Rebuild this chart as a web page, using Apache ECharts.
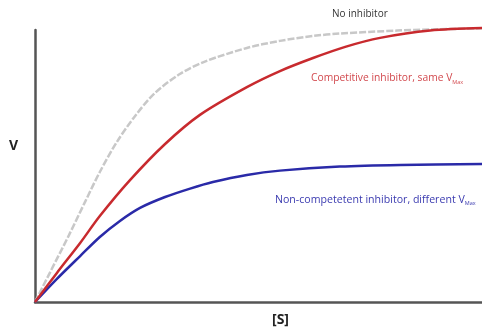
<!DOCTYPE html>
<html>
<head>
<meta charset="utf-8">
<script src="https://cdn.jsdelivr.net/npm/echarts@6/dist/echarts.min.js"></script>
<style>
  html, body { margin: 0; padding: 0; background: #fff; }
  #chart { width: 482px; height: 335px; }
</style>
</head>
<body>
<div id="chart"></div>
<script>
// [S] positions and V readings, per curve (0-100 scale)
const noInhS = [0, 3.4, 7.6, 11.2, 14.5, 18.3, 22.4, 26.8, 32.4, 38.0, 47.4, 54.8, 62.2, 68.2, 81.0, 88.4, 100]
const noInhV = [0, 11.0, 24.6, 36.8, 47.8, 58.8, 68.4, 76.8, 83.8, 88.4, 93.4, 96.0, 97.8, 98.7, 99.8, 100.2, 100.6]

const compS = [0, 4.9, 10.1, 14.5, 21.3, 29.1, 36.9, 47.4, 54.8, 62.2, 69.4, 77.2, 88.4, 100]
const compV = [0, 10.7, 21.7, 31.6, 44.9, 58.1, 68.8, 79.0, 84.9, 89.7, 93.8, 97.1, 99.8, 100.7]

const nonCompS = [0, 4.9, 10.1, 14.5, 19.0, 23.5, 29.1, 34.7, 39.8, 47.4, 54.8, 68.2, 81.7, 100]
const nonCompV = [0, 8.5, 16.9, 23.9, 29.8, 34.6, 38.6, 41.7, 44.1, 46.7, 48.3, 49.8, 50.4, 50.7]

const pairs = (xs, ys) => xs.map((x, i) => [x, ys[i]])

const chart = echarts.init(document.getElementById('chart'))
const font = '"Open Sans", "Noto Sans", sans-serif'

const curve = (name, xs, ys, color, z, extra) => ({
  name: name,
  type: 'line',
  smooth: 0.3,
  symbol: 'none',
  clip: false,
  z: z,
  lineStyle: Object.assign({ color: color, width: 2.5 }, extra || {}),
  data: pairs(xs, ys)
})

chart.setOption({
  backgroundColor: '#fff',
  animation: false,
  grid: { left: 35, right: 0, top: 30, bottom: 33 },
  xAxis: {
    type: 'value',
    min: 0,
    max: 100,
    axisLine: { show: true, lineStyle: { color: '#555', width: 2.5 } },
    axisTick: { show: false },
    axisLabel: { show: false },
    splitLine: { show: false }
  },
  yAxis: {
    type: 'value',
    min: 0,
    max: 100,
    axisLine: { show: true, lineStyle: { color: '#555', width: 2.5 } },
    axisTick: { show: false },
    axisLabel: { show: false },
    splitLine: { show: false }
  },
  series: [
    curve('No inhibitor', noInhS, noInhV, '#c8c8c8', 1, { type: [7, 2] }),
    curve('Competitive inhibitor', compS, compV, '#c82a2e', 3),
    curve('Non-competetent inhibitor', nonCompS, nonCompV, '#2a2aa8', 2)
  ],
  graphic: [
    {
      type: 'text',
      left: 9,
      top: 139,
      style: { text: 'V', fill: '#222', fontSize: 14, fontWeight: 'bold', fontFamily: font }
    },
    {
      type: 'text',
      left: 272,
      top: 313,
      style: { text: '[S]', fill: '#222', fontSize: 14, fontWeight: 'bold', fontFamily: font }
    },
    {
      type: 'text',
      left: 332,
      top: 9,
      style: { text: 'No inhibitor', fill: '#333', fontSize: 10, fontFamily: font }
    },
    {
      type: 'text',
      left: 311,
      top: 73,
      style: {
        text: 'Competitive inhibitor, same V{s|Max}',
        fill: '#d2494e',
        fontSize: 10.3,
        fontFamily: font,
        rich: { s: { fontSize: 5.5, fill: '#d2494e', padding: [8, 0, 0, 0], fontFamily: font } }
      }
    },
    {
      type: 'text',
      left: 275,
      top: 194,
      style: {
        text: 'Non-competetent inhibitor, different V{s|Max}',
        fill: '#3b3bb0',
        fontSize: 10.6,
        fontFamily: font,
        rich: { s: { fontSize: 5.5, fill: '#3b3bb0', padding: [8, 0, 0, 0], fontFamily: font } }
      }
    }
  ]
})
</script>
</body>
</html>
